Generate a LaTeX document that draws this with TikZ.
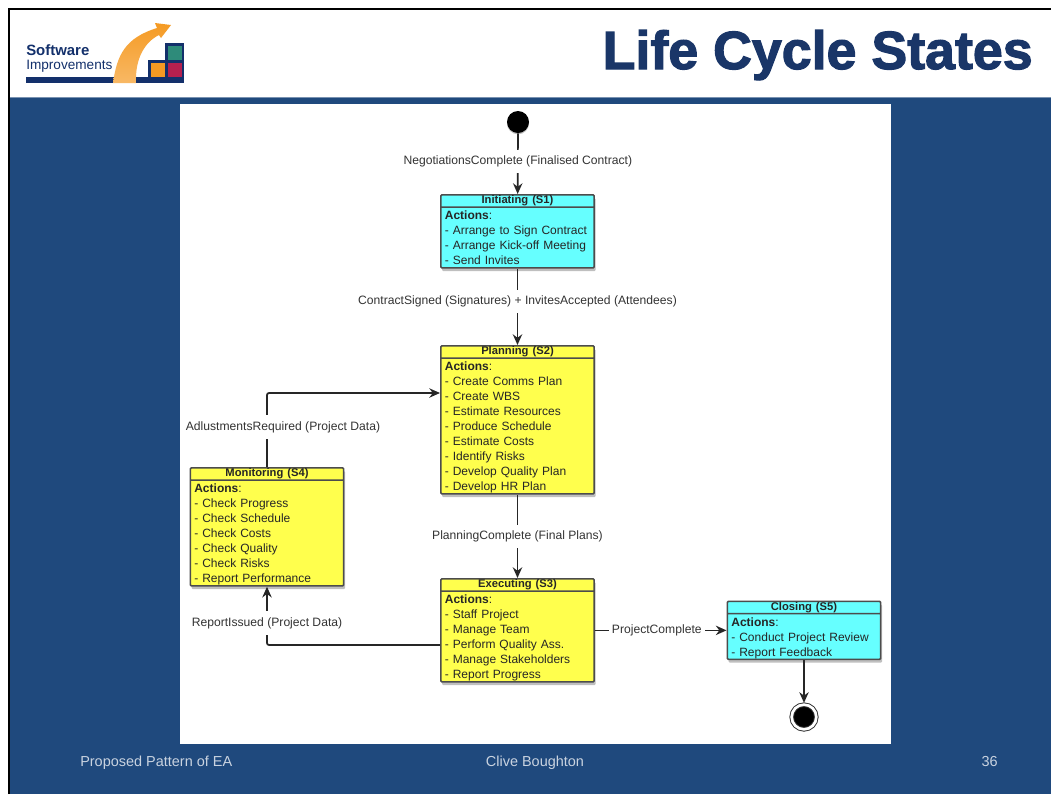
\documentclass[tikz,border=0pt]{standalone}
\usepackage{fontspec}
\setmainfont{Liberation Sans}
\newfontfamily\titlefont[FakeBold=2.2]{Liberation Sans Bold}
\usetikzlibrary{shapes.multipart,shadows,arrows.meta}

\definecolor{slideblue}{HTML}{1F497D}
\definecolor{logonavy}{HTML}{13306B}
\definecolor{titlenavy}{HTML}{1A3668}
\definecolor{logoorange}{HTML}{F59A23}
\definecolor{logoteal}{HTML}{2E8B7A}
\definecolor{logored}{HTML}{B5204F}
\definecolor{footgrey}{HTML}{C9D3E0}
\definecolor{statecyan}{HTML}{66FFFF}
\definecolor{stateyellow}{HTML}{FFFF4D}

\tikzset{
  statebox/.style={rectangle split, rectangle split parts=2, draw=black!70, line width=1.2pt,
    rounded corners=0.8pt, inner xsep=3pt, inner ysep=0pt, text=black!85,
    text width=109pt, font=\fontsize{9}{11.25}\selectfont,
    drop shadow={shadow xshift=1pt,shadow yshift=-2.4pt,fill=black!50}},
  flow/.style={-{Stealth[length=8pt,width=7pt]}, line width=1.3pt, black!85},
  trigger/.style={fill=white, inner xsep=2.5pt, inner ysep=4.5pt, text=black!80, sharp corners,
    font=\fontsize{9.1}{10}\selectfont},
  footer/.style={text=footgrey, font=\fontsize{10.85}{12}\selectfont},
}

\newcommand{\statebody}[2]{\centering\fontsize{8.4}{10}\selectfont\rule[-2pt]{0pt}{8pt}\textbf{#1}\par\nodepart{two}\rule{0pt}{8.7pt}\textbf{Actions}:\\#2\rule[-1.9pt]{0pt}{1pt}\par\vspace{-1pt}}

\begin{document}
\begin{tikzpicture}[x=0.75pt,y=-0.75pt]
  \useasboundingbox (0,0) rectangle (1051,794);

  % slide
  \fill[white] (0,0) rectangle (1051,794);
  \fill[slideblue] (9,98) rectangle (1051,794);
  \draw[black, line width=1.7pt] (9,794) -- (9,9) -- (1051,9);
  \draw[slideblue!60, line width=0.6pt] (10,97.5) -- (1051,97.5);
  \fill[white] (180,104) rectangle (891,744);

  % logo
  \fill[logonavy] (26,77) rectangle (184,83);
  \fill[logonavy] (148,60) rectangle (184,77);
  \fill[logonavy] (165,43) rectangle (184,60);
  \fill[logoteal] (168,46) rectangle (182,60);
  \fill[logored] (168,63) rectangle (182,77);
  \fill[logoorange] (151,63) rectangle (165,77);
  \shade[top color=logoorange, bottom color=logoorange!70] (113,83) .. controls (117,55) and (125,38) .. (157,28)
    -- (155,23) -- (171,25) -- (161,38) -- (159,35)
    .. controls (145,42) and (135,58) .. (136,83) -- cycle;
  \node[anchor=base west, inner sep=0pt, text=logonavy, font=\fontsize{11.2}{12}\selectfont\bfseries] (logotop) at (26,55) {Software};
  \node[anchor=base west, inner sep=0pt, text=logonavy, font=\fontsize{10.2}{12}\selectfont] (logobottom) at (26,69) {Improvements};

  % title
  \node[anchor=base east, inner sep=0pt, text=titlenavy, font=\fontsize{40.3}{44}\titlefont] (title) at (1033,69) {Life Cycle States};

  % states
  \node[statebox, fill=statecyan, anchor=north] (initiating) at (517.5,194)
    {\statebody{Initiating (S1)}{- Arrange to Sign Contract\\- Arrange Kick-off Meeting\\- Send Invites}};
  \node[statebox, fill=stateyellow, anchor=north] (planning) at (517.5,345)
    {\statebody{Planning (S2)}{- Create Comms Plan\\- Create WBS\\- Estimate Resources\\- Produce Schedule\\- Estimate Costs\\- Identify Risks\\- Develop Quality Plan\\- Develop HR Plan}};
  \node[statebox, fill=stateyellow, anchor=north] (executing) at (517.5,578)
    {\statebody{Executing (S3)}{- Staff Project\\- Manage Team\\- Perform Quality Ass.\\- Manage Stakeholders\\- Report Progress}};
  \node[statebox, fill=stateyellow, anchor=north] (monitoring) at (267,467)
    {\statebody{Monitoring (S4)}{- Check Progress\\- Check Schedule\\- Check Costs\\- Check Quality\\- Check Risks\\- Report Performance}};
  \node[statebox, fill=statecyan, anchor=north] (closing) at (804,600.5)
    {\statebody{Closing (S5)}{- Conduct Project Review\\- Report Feedback}};

  % start and end
  \node[circle, fill=black, minimum size=16.5pt, inner sep=0pt, drop shadow={shadow xshift=0pt,shadow yshift=-1pt,fill=black!50}] (start) at (518,122) {};
  \node[circle, fill=black, draw=black!80, line width=0.7pt, double=white, double distance=2pt, minimum size=18.5pt, inner sep=0pt, drop shadow={shadow xshift=0pt,shadow yshift=-1.5pt,fill=black!50}] (stop) at (804,717) {};

  \coordinate (planningin) at (440,393);
  \coordinate (executingout) at (440,645);

  % transitions
  \draw[flow] (start) -- node[trigger, pos=0.46] (negotiations) {NegotiationsComplete (Finalised Contract)} (initiating);
  \draw[flow] (initiating) -- node[trigger, pos=0.43] (signed) {ContractSigned (Signatures) + InvitesAccepted (Attendees)} (planning);
  \draw[flow] (planning) -- node[trigger] (planned) {PlanningComplete (Final Plans)} (executing);
  \draw[flow] (executing) -- node[trigger, pos=0.47] (complete) {ProjectComplete} (closing);
  \draw[flow, shorten >=1pt] (closing) -- (stop);
  \draw[flow, rounded corners=1.5pt] (executingout) -| node[trigger, pos=0.69] (issued) {ReportIssued (Project Data)} (monitoring.south);
  \draw[flow, rounded corners=1.5pt] (monitoring.north) |- node[trigger, pos=0.27, xshift=12pt] (adjust) {AdlustmentsRequired (Project Data)} (planningin);

  % footer
  \node[footer, anchor=base west, inner sep=0pt] (footleft) at (80,766) {Proposed Pattern of EA};
  \node[footer, anchor=base, inner sep=0pt] (footmid) at (535,766) {Clive Boughton};
  \node[footer, anchor=base east, inner sep=0pt] (footright) at (998,766) {36};
\end{tikzpicture}
\end{document}
